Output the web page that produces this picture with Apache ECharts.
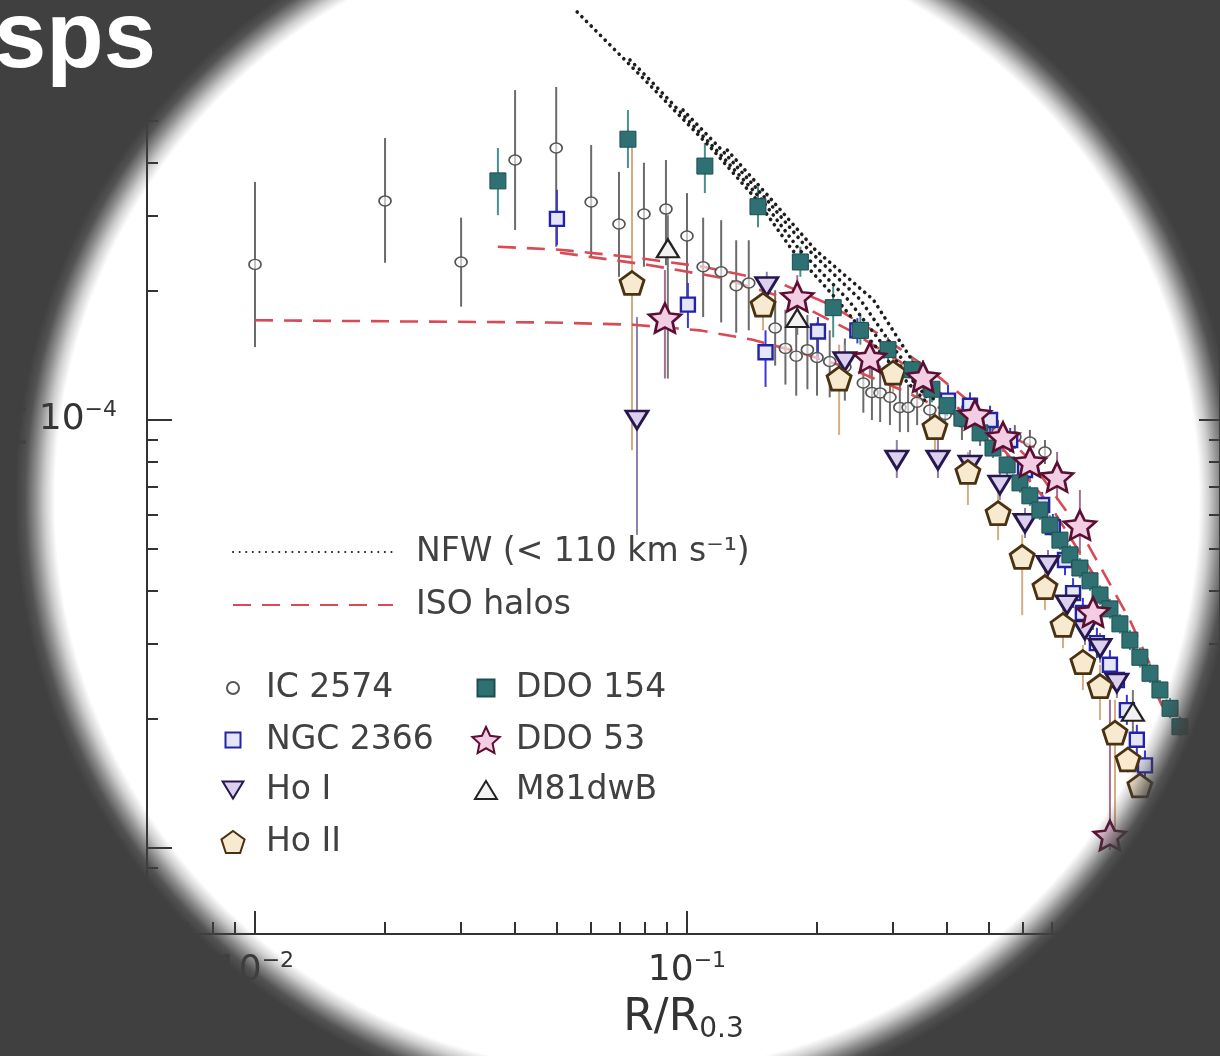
<!DOCTYPE html>
<html>
<head>
<meta charset="utf-8">
<script src="https://cdn.jsdelivr.net/npm/echarts@6/dist/echarts.min.js"></script>
<style>
html,body{margin:0;padding:0;background:#404040;}
#chart{width:1220px;height:1056px;}
</style>
</head>
<body>
<div id="chart"></div>
<script>
// ---------------- DATA ----------------
// each point: [R/R0.3, rho/rho0.3, error low, error high]
const ic2574 = [
 [0.0100, 2.31e-4, 1.48e-4, 3.60e-4],
 [0.0200, 3.25e-4, 2.33e-4, 4.56e-4],
 [0.0300, 2.34e-4, 1.84e-4, 2.97e-4],
 [0.0400, 4.05e-4, 2.78e-4, 5.90e-4],
 [0.0498, 4.32e-4, 2.54e-4, 6.00e-4],
 [0.0600, 3.23e-4, 2.39e-4, 4.39e-4],
 [0.0696, 2.87e-4, 2.16e-4, 3.80e-4],
 [0.0795, 3.03e-4, 2.28e-4, 3.99e-4],
 [0.0894, 3.11e-4, 2.30e-4, 4.05e-4],
 [0.100, 2.69e-4, 1.91e-4, 3.39e-4],
 [0.109, 2.28e-4, 1.74e-4, 2.97e-4],
 [0.120, 2.22e-4, 1.69e-4, 2.93e-4],
 [0.130, 2.06e-4, 1.60e-4, 2.63e-4],
 [0.139, 2.09e-4, 1.62e-4, 2.63e-4],
 [0.160, 1.64e-4, 1.34e-4, 2.01e-4],
 [0.169, 1.47e-4, 1.21e-4, 1.81e-4],
 [0.179, 1.41e-4, 1.14e-4, 1.71e-4],
 [0.190, 1.46e-4, 1.18e-4, 1.76e-4],
 [0.200, 1.40e-4, 1.14e-4, 1.69e-4],
 [0.214, 1.37e-4, 1.13e-4, 1.62e-4],
 [0.232, 1.33e-4, 1.11e-4, 1.55e-4],
 [0.256, 1.22e-4, 1.04e-4, 1.44e-4],
 [0.268, 1.16e-4, 1.00e-4, 1.37e-4],
 [0.280, 1.157e-4, 9.89e-5, 1.34e-4],
 [0.295, 1.13e-4, 9.73e-5, 1.31e-4],
 [0.311, 1.07e-4, 9.37e-5, 1.23e-4],
 [0.325, 1.07e-4, 9.37e-5, 1.21e-4],
 [0.341, 1.10e-4, 9.73e-5, 1.21e-4],
 [0.365, 1.055e-4, 9.58e-5, 1.16e-4],
 [0.396, 1.03e-4, 9.37e-5, 1.13e-4],
 [0.433, 9.89e-5, 8.98e-5, 1.08e-4],
 [0.477, 9.48e-5, 8.70e-5, 1.03e-4],
 [0.525, 9.37e-5, 8.79e-5, 1.00e-4],
 [0.574, 9.13e-5, 8.56e-5, 9.73e-5],
 [0.622, 8.88e-5, 8.33e-5, 9.48e-5],
 [0.674, 8.42e-5, 7.89e-5, 8.98e-5]
];
const ngc2366 = [
 [0.0500, 2.95e-4, 2.56e-4, 3.45e-4],
 [0.1005, 1.86e-4, 1.64e-4, 2.09e-4],
 [0.152, 1.44e-4, 1.195e-4, 1.62e-4],
 [0.201, 1.61e-4, 1.38e-4, 1.74e-4],
 [0.248, 1.62e-4, 1.51e-4, 1.73e-4],
 [0.402, 1.11e-4, 1.04e-4, 1.21e-4],
 [0.452, 1.08e-4, 1.01e-4, 1.16e-4],
 [0.503, 1.00e-4, 9.23e-5, 1.08e-4],
 [0.560, 8.98e-5, 8.42e-5, 9.58e-5],
 [0.606, 7.64e-5, 7.16e-5, 8.15e-5],
 [0.664, 6.33e-5, 5.90e-5, 6.79e-5],
 [0.703, 5.62e-5, 5.24e-5, 6.03e-5],
 [0.750, 4.71e-5, 4.34e-5, 5.10e-5],
 [0.783, 3.94e-5, 3.64e-5, 4.27e-5],
 [0.825, 3.54e-5, 3.27e-5, 3.84e-5],
 [0.889, 3.01e-5, 2.78e-5, 3.27e-5],
 [0.953, 2.68e-5, 2.47e-5, 2.90e-5],
 [0.989, 2.47e-5, 2.28e-5, 2.68e-5],
 [1.043, 2.10e-5, 1.94e-5, 2.28e-5],
 [1.100, 1.79e-5, 1.65e-5, 1.94e-5],
 [1.149, 1.56e-5, 1.44e-5, 1.69e-5]
];
const hoI = [
 [0.0766, 1.00e-4, 5.39e-5, 1.74e-4],
 [0.153, 2.05e-4, 1.91e-4, 2.22e-4],
 [0.232, 1.37e-4, 1.24e-4, 1.50e-4],
 [0.306, 8.06e-5, 7.32e-5, 8.98e-5],
 [0.381, 8.06e-5, 7.32e-5, 8.98e-5],
 [0.452, 7.85e-5, 7.24e-5, 8.51e-5],
 [0.530, 7.05e-5, 6.50e-5, 7.64e-5],
 [0.606, 5.74e-5, 5.30e-5, 6.23e-5],
 [0.685, 4.58e-5, 4.23e-5, 4.97e-5],
 [0.758, 3.70e-5, 3.41e-5, 4.01e-5],
 [0.834, 3.23e-5, 2.98e-5, 3.50e-5],
 [0.904, 2.93e-5, 2.71e-5, 3.18e-5],
 [0.989, 2.43e-5, 2.24e-5, 2.63e-5]
];
const hoII = [
 [0.0746, 2.09e-4, 8.50e-5, 4.51e-4],
 [0.150, 1.86e-4, 1.62e-4, 2.03e-4],
 [0.225, 1.25e-4, 9.23e-5, 1.50e-4],
 [0.300, 1.29e-4, 1.16e-4, 1.42e-4],
 [0.375, 9.63e-5, 8.28e-5, 1.07e-4],
 [0.447, 7.56e-5, 6.33e-5, 8.42e-5],
 [0.525, 6.06e-5, 5.24e-5, 6.79e-5],
 [0.597, 4.79e-5, 3.50e-5, 5.39e-5],
 [0.674, 4.07e-5, 3.60e-5, 4.58e-5],
 [0.742, 3.32e-5, 2.93e-5, 3.70e-5],
 [0.825, 2.72e-5, 2.34e-5, 2.98e-5],
 [0.904, 2.39e-5, 1.99e-5, 2.68e-5],
 [0.979, 1.86e-5, 1.07e-5, 2.22e-5],
 [1.049, 1.61e-5, 1.50e-5, 1.71e-5],
 [1.118, 1.40e-5, 1.32e-5, 1.50e-5]
];
const ddo154 = [
 [0.0365, 3.62e-4, 3.01e-4, 4.32e-4],
 [0.0730, 4.53e-4, 3.88e-4, 5.30e-4],
 [0.110, 3.92e-4, 3.39e-4, 4.44e-4],
 [0.146, 3.15e-4, 2.82e-4, 3.50e-4],
 [0.183, 2.34e-4, 2.16e-4, 2.54e-4],
 [0.218, 1.83e-4, 1.56e-4, 2.05e-4],
 [0.252, 1.62e-4, 1.50e-4, 1.76e-4],
 [0.292, 1.46e-4, 1.36e-4, 1.56e-4],
 [0.332, 1.31e-4, 1.23e-4, 1.40e-4],
 [0.369, 1.18e-4, 1.10e-4, 1.25e-4],
 [0.400, 1.08e-4, 1.02e-4, 1.14e-4],
 [0.433, 1.01e-4, 9.58e-5, 1.07e-4],
 [0.477, 9.33e-5, 8.84e-5, 9.84e-5],
 [0.511, 8.60e-5, 8.15e-5, 9.07e-5],
 [0.551, 7.85e-5, 7.44e-5, 8.28e-5],
 [0.590, 7.13e-5, 6.76e-5, 7.52e-5],
 [0.622, 6.65e-5, 6.30e-5, 7.02e-5],
 [0.656, 6.16e-5, 5.84e-5, 6.50e-5],
 [0.692, 5.68e-5, 5.38e-5, 5.99e-5],
 [0.730, 5.24e-5, 4.97e-5, 5.53e-5],
 [0.770, 4.84e-5, 4.59e-5, 5.11e-5],
 [0.812, 4.51e-5, 4.27e-5, 4.76e-5],
 [0.857, 4.21e-5, 3.99e-5, 4.44e-5],
 [0.904, 3.90e-5, 3.70e-5, 4.11e-5],
 [0.953, 3.62e-5, 3.43e-5, 3.82e-5],
 [1.005, 3.34e-5, 3.17e-5, 3.52e-5],
 [1.060, 3.06e-5, 2.90e-5, 3.23e-5],
 [1.118, 2.79e-5, 2.64e-5, 2.94e-5],
 [1.180, 2.56e-5, 2.43e-5, 2.70e-5],
 [1.244, 2.34e-5, 2.22e-5, 2.47e-5],
 [1.313, 2.12e-5, 2.01e-5, 2.24e-5],
 [1.384, 1.92e-5, 1.82e-5, 2.03e-5]
];
const ddo53 = [
 [0.0889, 1.73e-4, 1.25e-4, 2.24e-4],
 [0.180, 1.94e-4, 1.67e-4, 2.18e-4],
 [0.265, 1.40e-4, 1.25e-4, 1.54e-4],
 [0.352, 1.26e-4, 1.14e-4, 1.38e-4],
 [0.464, 1.03e-4, 9.48e-5, 1.11e-4],
 [0.539, 9.13e-5, 8.42e-5, 9.89e-5],
 [0.622, 7.98e-5, 7.24e-5, 8.74e-5],
 [0.719, 7.36e-5, 6.50e-5, 8.42e-5],
 [0.812, 5.68e-5, 4.84e-5, 6.86e-5],
 [0.871, 3.56e-5, 3.23e-5, 3.90e-5],
 [0.953, 1.07e-5, 9.89e-6, 2.22e-5]
];
const m81dwb = [
 [0.0903, 2.52e-4, 1.25e-4, 3.01e-4],
 [0.180, 1.73e-4, 1.58e-4, 1.91e-4],
 [1.077, 2.08e-5, 1.84e-5, 2.34e-5]
];
// model curves [R, rho]
const isoA = [[0.0100,1.71e-4],[0.0217,1.70e-4],[0.0482,1.69e-4],[0.075,1.67e-4],[0.107,1.62e-4],[0.142,1.54e-4],[0.182,1.44e-4],[0.238,1.32e-4],[0.311,1.18e-4],[0.406,1.04e-4],[0.530,9.37e-5],[0.674,8.42e-5]];
const isoB = [[0.0365,2.54e-4],[0.0508,2.50e-4],[0.075,2.40e-4],[0.109,2.28e-4],[0.164,2.09e-4],[0.214,1.86e-4],[0.280,1.58e-4],[0.365,1.31e-4],[0.477,1.055e-4],[0.622,8.06e-5],[0.812,5.53e-5],[1.060,3.41e-5],[1.348,1.99e-5]];
const isoC = [[0.0508,2.46e-4],[0.0821,2.30e-4],[0.120,2.15e-4],[0.173,1.91e-4],[0.238,1.62e-4],[0.311,1.37e-4],[0.406,1.11e-4],[0.530,8.74e-5],[0.692,6.33e-5],[0.904,4.12e-5],[1.180,2.47e-5],[1.278,2.08e-5]];
const nfw1 = [[0.0557,8.98e-4],[0.0799,6.23e-4],[0.115,4.27e-4],[0.145,3.27e-4],[0.175,2.50e-4],[0.2225,1.91e-4],[0.277,1.46e-4],[0.320,1.24e-4],[0.3555,1.11e-4]];
const nfw2 = [[0.0738,6.94e-4],[0.0821,6.23e-4],[0.117,4.27e-4],[0.149,3.27e-4],[0.182,2.50e-4],[0.236,1.91e-4],[0.290,1.46e-4],[0.332,1.24e-4],[0.365,1.11e-4]];
const nfw3 = [[0.0979,5.30e-4],[0.1205,4.27e-4],[0.153,3.27e-4],[0.191,2.50e-4],[0.252,1.91e-4],[0.303,1.46e-4],[0.3425,1.24e-4],[0.375,1.11e-4]];
const nfw4 = [[0.124,4.27e-4],[0.157,3.27e-4],[0.198,2.50e-4],[0.270,1.91e-4],[0.320,1.46e-4],[0.3555,1.24e-4],[0.389,1.11e-4]];
// ticks
const xMajorTicks = [0.01, 0.1, 1];
const xMinorTicks = [0.006,0.007,0.008,0.009,0.02,0.03,0.04,0.05,0.06,0.07,0.08,0.09,0.2,0.3,0.4,0.5,0.6,0.7,0.8,0.9];
const yMajorTicks = [1e-5, 1e-4];
const yMinorTicks = [7e-6,8e-6,9e-6,2e-5,3e-5,4e-5,5e-5,6e-5,7e-5,8e-5,9e-5,2e-4,3e-4,4e-4,5e-4,6e-4,7e-4,8e-4,9e-4];
const xTickLabels = [0.01, 0.1];
const yTickLabels = [1e-5, 1e-4];
const xRange = [0.0056234, 1.7135];
const yRange = [6.296e-6, 9.579e-4];

// ---------------- CHART ----------------
const FONT = 'DejaVu Sans';
const AX = '#333333';
const NFW_NAME = 'NFW (< 110 km s\u207B\u00B9)';
const ISO_NAME = 'ISO halos';

const STAR = 'path://M50,0L64.1,30.6L97.6,34.5L72.8,57.4L79.4,90.5L50,74L20.6,90.5L27.2,57.4L2.4,34.5L35.9,30.6Z';
const PENT = 'path://M50,0L97.6,34.5L79.4,90.5L20.6,90.5L2.4,34.5Z';
const DTRI = 'path://M0,0L100,0L50,82Z';
const UTRI = 'path://M50,0L100,82L0,82Z';
const SQR = 'path://M0,0L100,0L100,100L0,100Z';

function expLabel(v) {
  const e = Math.round(Math.log10(v));
  return '{b|10}{s|' + (e < 0 ? '\u2212' : '') + Math.abs(e) + '}';
}
const labelRich = {
  b: {fontFamily: FONT, fontSize: 36, color: AX, lineHeight: 42},
  s: {fontFamily: FONT, fontSize: 22, color: AX, lineHeight: 22, verticalAlign: 'top'}
};

function errSeries(src, color) {
  return {
    type: 'custom', silent: true, z: 1,
    xAxisIndex: 0, yAxisIndex: 0,
    data: src.map(d => [d[0], d[2], d[3]]),
    encode: {x: 0, y: [1, 2]},
    renderItem: function (params, api) {
      const p1 = api.coord([api.value(0), api.value(1)]);
      const p2 = api.coord([api.value(0), api.value(2)]);
      return {type: 'line', shape: {x1: p1[0], y1: p1[1], x2: p2[0], y2: p2[1]},
              style: {stroke: color, lineWidth: 2}};
    }
  };
}
function ptSeries(name, src, symbol, size, fill, border, bw, z) {
  return {
    type: 'scatter', name: name, z: z || 3,
    xAxisIndex: 0, yAxisIndex: 0,
    data: src.map(d => [d[0], d[1]]),
    symbol: symbol, symbolSize: size,
    itemStyle: {color: fill, borderColor: border, borderWidth: bw, opacity: 1},
    emphasis: {disabled: true}
  };
}
function nfwSeries(d) {
  return {type: 'line', name: NFW_NAME, data: d, symbol: 'none', z: 2, silent: true,
    itemStyle: {color: '#1e1e1e'},
    lineStyle: {color: '#1e1e1e', width: 3.6, type: [0.1, 6.5], cap: 'round'}};
}
function isoSeries(d) {
  return {type: 'line', name: ISO_NAME, data: d, symbol: 'none', z: 2, silent: true,
    itemStyle: {color: '#d94a55'},
    lineStyle: {color: '#d94a55', width: 2.6, type: [18, 11]}};
}
// cx, cy: icon centre; w: item box width; h: icon height; a: drawn icon width
function legendItem(name, cx, cy, w, h, a, padLeft, hideSymbol) {
  const l = {
    data: [name], left: cx - a / 2, top: cy - 18, itemWidth: w, itemHeight: h,
    orient: 'horizontal', padding: 0, itemGap: 0, selectedMode: false,
    symbolKeepAspect: true,
    textStyle: {fontFamily: FONT, fontSize: 33, color: '#414141', lineHeight: 36,
                padding: [0, 0, 0, padLeft || 0]}
  };
  if (hideSymbol) {
    l.itemStyle = {opacity: 0, color: 'rgba(0,0,0,0)', borderWidth: 0};
  }
  return l;
}

const baseLog = {type: 'log', logBase: 10, splitLine: {show: false}, minorTick: {show: false}};

const option = {
  backgroundColor: '#ffffff',
  animation: false,
  tooltip: {show: false},
  grid: {left: 147, right: 0, top: 0, bottom: 122, containLabel: false, outerBoundsMode: 'none'},
  xAxis: [
    Object.assign({}, baseLog, {
      min: xRange[0], max: xRange[1], position: 'bottom',
      axisLine: {show: true, lineStyle: {color: AX, width: 2}},
      axisTick: {show: true, inside: true, length: 23, customValues: xMajorTicks, lineStyle: {color: AX, width: 2}},
      axisLabel: {show: true, customValues: xTickLabels, margin: 16, formatter: expLabel, rich: labelRich},
      name: '{a|R/R}{s|0.3}', nameLocation: 'middle', nameGap: 60,
      nameTextStyle: {rich: {
        a: {fontFamily: FONT, fontSize: 44, color: AX, lineHeight: 50},
        s: {fontFamily: FONT, fontSize: 28, color: AX, lineHeight: 28, verticalAlign: 'bottom'}
      }}
    }),
    Object.assign({}, baseLog, {
      min: xRange[0], max: xRange[1], position: 'bottom',
      axisLine: {show: false},
      axisTick: {show: true, inside: true, length: 12, customValues: xMinorTicks, lineStyle: {color: AX, width: 2}},
      axisLabel: {show: false}
    })
  ],
  yAxis: [
    Object.assign({}, baseLog, {
      min: yRange[0], max: yRange[1], position: 'left',
      axisLine: {show: true, lineStyle: {color: AX, width: 2}},
      axisTick: {show: true, inside: true, length: 25, customValues: yMajorTicks, lineStyle: {color: AX, width: 2}},
      axisLabel: {show: true, customValues: yTickLabels, margin: 30, formatter: expLabel, rich: labelRich},
      name: '{a|\u03C1/\u03C1}{s|0.3}', nameLocation: 'middle', nameGap: 80, nameRotate: 90,
      nameTextStyle: {padding: [0, 0, 0, 130], rich: {
        a: {fontFamily: FONT, fontSize: 34, color: AX, lineHeight: 36},
        s: {fontFamily: FONT, fontSize: 22, color: AX, lineHeight: 22, verticalAlign: 'bottom'}
      }}
    }),
    Object.assign({}, baseLog, {
      min: yRange[0], max: yRange[1], position: 'left',
      axisLine: {show: false},
      axisTick: {show: true, inside: true, length: 11, customValues: yMinorTicks, lineStyle: {color: AX, width: 2}},
      axisLabel: {show: false}
    }),
    Object.assign({}, baseLog, {
      min: yRange[0], max: yRange[1], position: 'right',
      axisLine: {show: true, lineStyle: {color: AX, width: 2}},
      axisTick: {show: true, inside: true, length: 21, customValues: yMajorTicks, lineStyle: {color: AX, width: 2}},
      axisLabel: {show: false}
    }),
    Object.assign({}, baseLog, {
      min: yRange[0], max: yRange[1], position: 'right',
      axisLine: {show: false},
      axisTick: {show: true, inside: true, length: 11, customValues: yMinorTicks, lineStyle: {color: AX, width: 2}},
      axisLabel: {show: false}
    })
  ],
  legend: [
    legendItem(NFW_NAME, 312, 552, 160, 14, 160, 18, true),
    legendItem(ISO_NAME, 312, 605, 160, 14, 160, 18, true),
    legendItem('IC 2574', 232, 688, 56, 12, 12),
    legendItem('NGC 2366', 232, 740, 56, 15, 15),
    legendItem('Ho I', 232, 790, 56, 17, 20.7),
    legendItem('Ho II', 232, 842, 56, 22, 23.1),
    legendItem('DDO 154', 485, 688, 50, 17, 17),
    legendItem('DDO 53', 485, 740, 50, 26, 27.3),
    legendItem('M81dwB', 485, 790, 50, 18, 22)
  ],
  series: [
    errSeries(ic2574, '#6b6b6b'),
    errSeries(ngc2366, '#3a3ad0'),
    errSeries(hoI, '#8e7fb0'),
    errSeries(hoII, '#d6ad82'),
    errSeries(ddo154, '#4b9090'),
    errSeries(ddo53, '#a5708f'),
    errSeries(m81dwb, '#777777'),
    isoSeries(isoA), isoSeries(isoB), isoSeries(isoC),
    nfwSeries(nfw1), nfwSeries(nfw2), nfwSeries(nfw3), nfwSeries(nfw4),
    ptSeries('IC 2574', ic2574, 'circle', [12, 10], 'rgba(255,255,255,0.6)', '#555555', 1.6, 3),
    ptSeries('NGC 2366', ngc2366, SQR, 14, '#e4e6f7', '#2323a8', 2.4, 4),
    ptSeries('Ho I', hoI, DTRI, [22, 18], '#dcd0ee', '#26184f', 2.8, 4),
    ptSeries('Ho II', hoII, PENT, [24, 23], '#f7ead0', '#4a3210', 2.8, 4),
    ptSeries('DDO 154', ddo154, SQR, 16, '#2f7172', '#1d4f50', 1, 5),
    ptSeries('DDO 53', ddo53, STAR, [32, 29], '#f3cde3', '#5b0f33', 2.6, 5),
    ptSeries('M81dwB', m81dwb, UTRI, [22, 18], '#f2f2f2', '#222222', 2.2, 5)
  ],
  graphic: [
    {
      type: 'rect', z: 100, silent: true,
      shape: {x: 0, y: 0, width: 1220, height: 1056},
      style: {fill: {type: 'radial', x: 627, y: 500, r: 800, global: true,
        colorStops: [
          {offset: 0, color: 'rgba(64,64,64,0)'},
          {offset: 572 / 800, color: 'rgba(64,64,64,0)'},
          {offset: 582 / 800, color: 'rgba(64,64,64,0.25)'},
          {offset: 592 / 800, color: 'rgba(64,64,64,0.6)'},
          {offset: 602 / 800, color: 'rgba(64,64,64,0.9)'},
          {offset: 612 / 800, color: 'rgba(64,64,64,1)'},
          {offset: 1, color: 'rgba(64,64,64,1)'}
        ]}}
    },
    {
      type: 'text', z: 101, silent: true, x: 156, y: 41,
      style: {text: 'sps', font: 'bold 94px "Liberation Sans", Arial, sans-serif', fill: '#ffffff',
              textAlign: 'right', textVerticalAlign: 'middle', align: 'right', verticalAlign: 'middle'}
    }
  ]
};

const chart = echarts.init(document.getElementById('chart'), null, {renderer: 'canvas'});
chart.setOption(option);
</script>
</body>
</html>
